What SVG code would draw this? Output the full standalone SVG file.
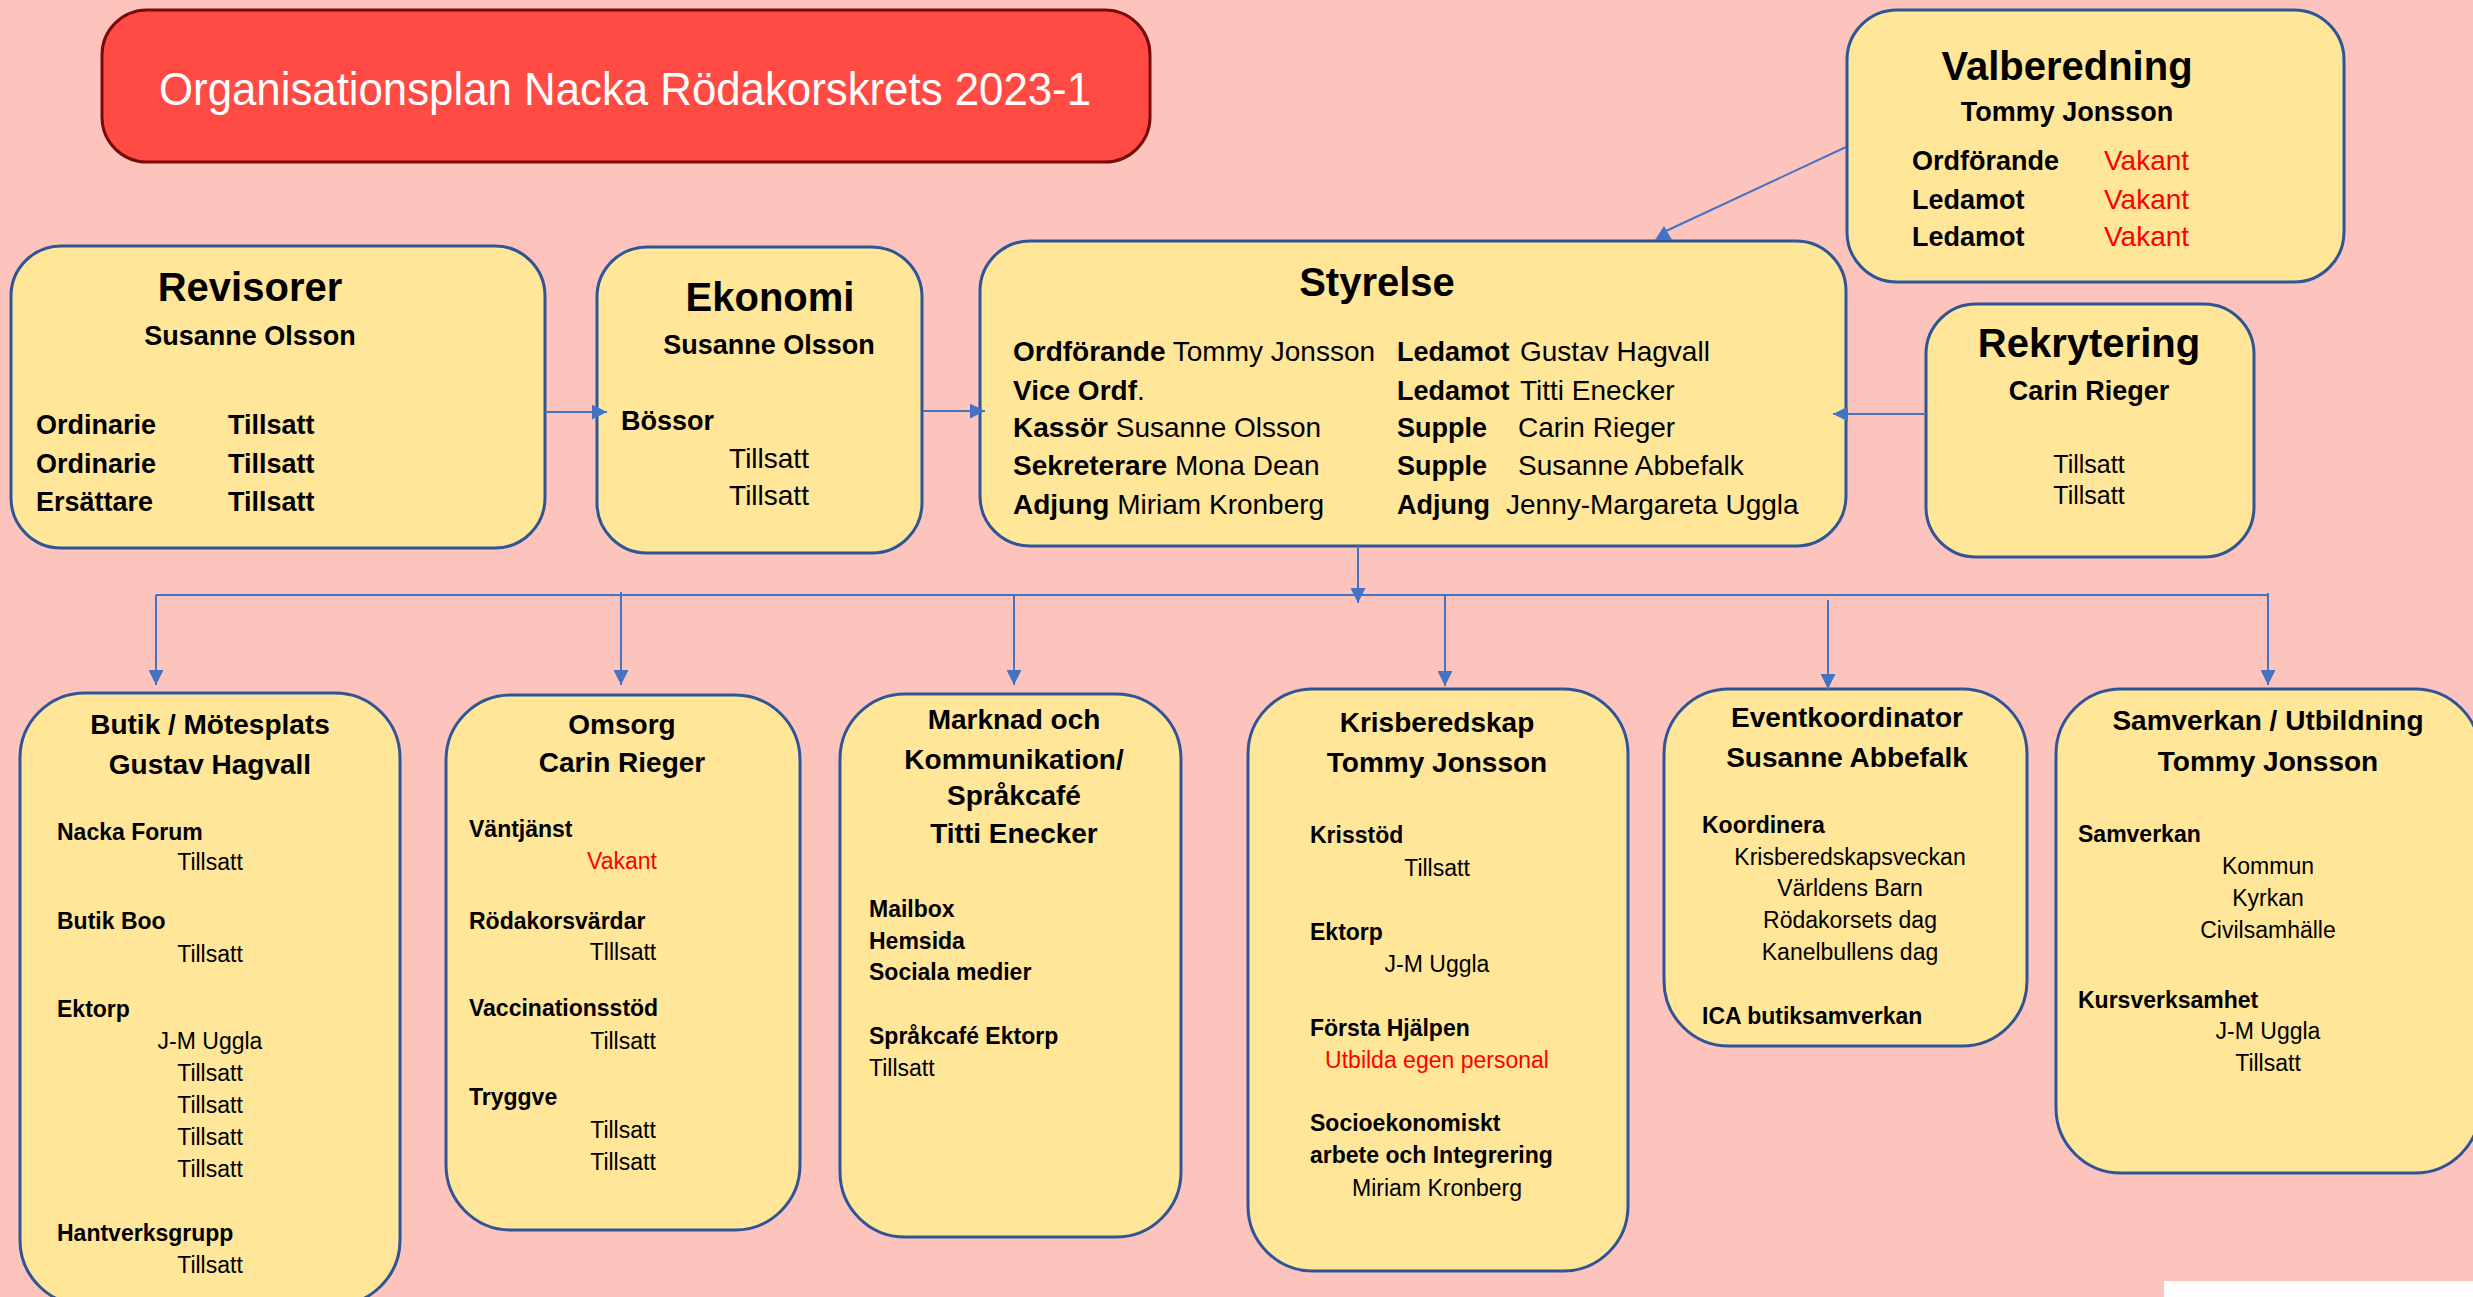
<svg xmlns="http://www.w3.org/2000/svg" width="2473" height="1297" viewBox="0 0 2473 1297">
<style>
text{font-family:"Liberation Sans",Arial,sans-serif;fill:#000}
.box{fill:#FFE699;stroke:#2F5597;stroke-width:3}
.h1{font-size:40px;font-weight:bold;text-anchor:middle}
.h2{font-size:27px;font-weight:bold;text-anchor:middle}
.b27{font-size:27px;font-weight:bold}
.r28{font-size:28px}
.r25{font-size:25px;text-anchor:middle}
.bh{font-size:28px;font-weight:bold;text-anchor:middle}
.bs{font-size:23px;font-weight:bold}
.rs{font-size:23px}
.c{text-anchor:middle}
.red{fill:#FF0000}
.conn{stroke:#4472C4;stroke-width:2;fill:none}
</style>
<defs>
<marker id="ah" viewBox="0 0 10 10" refX="10" refY="5" markerWidth="15" markerHeight="15" markerUnits="userSpaceOnUse" orient="auto">
<path d="M0,0 L10,5 L0,10 z" fill="#4472C4"/>
</marker>
</defs>
<rect x="0" y="0" width="2473" height="1297" fill="#FCC4BD"/>
<rect x="2164" y="1281" width="309" height="16" fill="#FFFFFF"/>

<g id="title">
<rect x="102" y="10" width="1048" height="152" rx="45" fill="#FF4B43" stroke="#7A0A0A" stroke-width="3"/>
<text x="625" y="105" font-size="46" fill="#FFFFFF" style="fill:#FFFFFF" text-anchor="middle" textLength="932" lengthAdjust="spacingAndGlyphs">Organisationsplan Nacka Rödakorskrets 2023-1</text>
</g>

<g id="revisorer">
<rect class="box" x="11" y="246" width="534" height="302" rx="50"/>
<text class="h1" x="250" y="301">Revisorer</text>
<text class="h2" x="250" y="345">Susanne Olsson</text>
<text class="b27" x="36" y="434">Ordinarie</text><text class="b27" x="228" y="434">Tillsatt</text>
<text class="b27" x="36" y="473">Ordinarie</text><text class="b27" x="228" y="473">Tillsatt</text>
<text class="b27" x="36" y="511">Ersättare</text><text class="b27" x="228" y="511">Tillsatt</text>
</g>

<g id="ekonomi">
<rect class="box" x="597" y="247" width="325" height="306" rx="50"/>
<text class="h1" x="770" y="311">Ekonomi</text>
<text class="h2" x="769" y="354">Susanne Olsson</text>
<text class="b27" x="621" y="430">Bössor</text>
<text class="r28 c" x="769" y="468">Tillsatt</text>
<text class="r28 c" x="769" y="505">Tillsatt</text>
</g>

<g id="styrelse">
<rect class="box" x="980" y="241" width="866" height="305" rx="50"/>
<text class="h1" x="1377" y="296">Styrelse</text>
<text class="r28" x="1013" y="361" font-size="27"><tspan font-weight="bold">Ordförande</tspan> Tommy Jonsson</text>
<text class="r28" x="1013" y="400" font-size="27"><tspan font-weight="bold">Vice Ordf</tspan>.</text>
<text class="r28" x="1013" y="437" font-size="27"><tspan font-weight="bold">Kassör</tspan> Susanne Olsson</text>
<text class="r28" x="1013" y="475" font-size="27"><tspan font-weight="bold">Sekreterare</tspan> Mona Dean</text>
<text class="r28" x="1013" y="514" font-size="27"><tspan font-weight="bold">Adjung</tspan> Miriam Kronberg</text>
<text class="b27" x="1397" y="361">Ledamot</text><text class="r28" x="1520" y="361" font-size="27">Gustav Hagvall</text>
<text class="b27" x="1397" y="400">Ledamot</text><text class="r28" x="1520" y="400" font-size="27">Titti Enecker</text>
<text class="b27" x="1397" y="437">Supple</text><text class="r28" x="1518" y="437" font-size="27">Carin Rieger</text>
<text class="b27" x="1397" y="475">Supple</text><text class="r28" x="1518" y="475" font-size="27">Susanne Abbefalk</text>
<text class="b27" x="1397" y="514">Adjung</text><text class="r28" x="1506" y="514" font-size="27">Jenny-Margareta Uggla</text>
</g>

<g id="valberedning">
<rect class="box" x="1847" y="10" width="497" height="272" rx="50"/>
<text class="h1" x="2067" y="80">Valberedning</text>
<text class="h2" x="2067" y="121" font-size="28">Tommy Jonsson</text>
<text class="b27" x="1912" y="170">Ordförande</text><text class="r28 red" x="2104" y="170">Vakant</text>
<text class="b27" x="1912" y="209">Ledamot</text><text class="r28 red" x="2104" y="209">Vakant</text>
<text class="b27" x="1912" y="246">Ledamot</text><text class="r28 red" x="2104" y="246">Vakant</text>
</g>

<g id="rekrytering">
<rect class="box" x="1926" y="304" width="328" height="253" rx="50"/>
<text class="h1" x="2089" y="357">Rekrytering</text>
<text class="h2" x="2089" y="400">Carin Rieger</text>
<text class="r25" x="2089" y="473">Tillsatt</text>
<text class="r25" x="2089" y="504">Tillsatt</text>
</g>

<g id="butik">
<rect class="box" x="20" y="693" width="380" height="612" rx="65"/>
<text class="bh" x="210" y="734">Butik / Mötesplats</text>
<text class="bh" x="210" y="774">Gustav Hagvall</text>
<text class="bs" x="57" y="840">Nacka Forum</text>
<text class="rs c" x="210" y="870">Tillsatt</text>
<text class="bs" x="57" y="929">Butik Boo</text>
<text class="rs c" x="210" y="962">Tillsatt</text>
<text class="bs" x="57" y="1017">Ektorp</text>
<text class="rs c" x="210" y="1049">J-M Uggla</text>
<text class="rs c" x="210" y="1081">Tillsatt</text>
<text class="rs c" x="210" y="1113">Tillsatt</text>
<text class="rs c" x="210" y="1145">Tillsatt</text>
<text class="rs c" x="210" y="1177">Tillsatt</text>
<text class="bs" x="57" y="1241">Hantverksgrupp</text>
<text class="rs c" x="210" y="1273">Tillsatt</text>
</g>

<g id="omsorg">
<rect class="box" x="446" y="695" width="354" height="535" rx="65"/>
<text class="bh" x="622" y="734">Omsorg</text>
<text class="bh" x="622" y="772">Carin Rieger</text>
<text class="bs" x="469" y="837">Väntjänst</text>
<text class="rs c red" x="622" y="869">Vakant</text>
<text class="bs" x="469" y="929">Rödakorsvärdar</text>
<text class="rs c" x="623" y="960">Tlllsatt</text>
<text class="bs" x="469" y="1016">Vaccinationsstöd</text>
<text class="rs c" x="623" y="1049">Tillsatt</text>
<text class="bs" x="469" y="1105">Tryggve</text>
<text class="rs c" x="623" y="1138">Tillsatt</text>
<text class="rs c" x="623" y="1170">Tillsatt</text>
</g>

<g id="marknad">
<rect class="box" x="840" y="694" width="341" height="543" rx="65"/>
<text class="bh" x="1014" y="729">Marknad och</text>
<text class="bh" x="1014" y="769">Kommunikation/</text>
<text class="bh" x="1014" y="805">Språkcafé</text>
<text class="bh" x="1014" y="843">Titti Enecker</text>
<text class="bs" x="869" y="917">Mailbox</text>
<text class="bs" x="869" y="949">Hemsida</text>
<text class="bs" x="869" y="980">Sociala medier</text>
<text class="bs" x="869" y="1044">Språkcafé Ektorp</text>
<text class="rs" x="869" y="1076">Tillsatt</text>
</g>

<g id="krisberedskap">
<rect class="box" x="1248" y="689" width="380" height="582" rx="65"/>
<text class="bh" x="1437" y="732">Krisberedskap</text>
<text class="bh" x="1437" y="772">Tommy Jonsson</text>
<text class="bs" x="1310" y="843">Krisstöd</text>
<text class="rs c" x="1437" y="876">Tillsatt</text>
<text class="bs" x="1310" y="940">Ektorp</text>
<text class="rs c" x="1437" y="972">J-M Uggla</text>
<text class="bs" x="1310" y="1036">Första Hjälpen</text>
<text class="rs c red" x="1437" y="1068">Utbilda egen personal</text>
<text class="bs" x="1310" y="1131">Socioekonomiskt</text>
<text class="bs" x="1310" y="1163">arbete och Integrering</text>
<text class="rs c" x="1437" y="1196">Miriam Kronberg</text>
</g>

<g id="eventkoordinator">
<rect class="box" x="1664" y="689" width="363" height="357" rx="65"/>
<text class="bh" x="1847" y="727">Eventkoordinator</text>
<text class="bh" x="1847" y="767">Susanne Abbefalk</text>
<text class="bs" x="1702" y="833">Koordinera</text>
<text class="rs c" x="1850" y="865">Krisberedskapsveckan</text>
<text class="rs c" x="1850" y="896">Världens Barn</text>
<text class="rs c" x="1850" y="928">Rödakorsets dag</text>
<text class="rs c" x="1850" y="960">Kanelbullens dag</text>
<text class="bs" x="1702" y="1024">ICA butiksamverkan</text>
</g>

<g id="samverkan">
<rect class="box" x="2056" y="689" width="424" height="484" rx="65"/>
<text class="bh" x="2268" y="730">Samverkan / Utbildning</text>
<text class="bh" x="2268" y="771">Tommy Jonsson</text>
<text class="bs" x="2078" y="842">Samverkan</text>
<text class="rs c" x="2268" y="874">Kommun</text>
<text class="rs c" x="2268" y="906">Kyrkan</text>
<text class="rs c" x="2268" y="938">Civilsamhälle</text>
<text class="bs" x="2078" y="1008">Kursverksamhet</text>
<text class="rs c" x="2268" y="1039">J-M Uggla</text>
<text class="rs c" x="2268" y="1071">Tillsatt</text>
</g>

<g id="connectors">
<line class="conn" x1="545" y1="412" x2="607" y2="412" marker-end="url(#ah)"/>
<line class="conn" x1="923" y1="411" x2="985" y2="411" marker-end="url(#ah)"/>
<line class="conn" x1="1926" y1="414" x2="1833" y2="414" marker-end="url(#ah)"/>
<line class="conn" x1="1846" y1="147" x2="1666" y2="231"/>
<polygon points="1664,226 1672,240 1655,240" fill="#4472C4"/>
<line class="conn" x1="1358" y1="546" x2="1358" y2="603" marker-end="url(#ah)"/>
<line class="conn" x1="156" y1="595" x2="2268" y2="595"/>
<line class="conn" x1="156" y1="595" x2="156" y2="685" marker-end="url(#ah)"/>
<line class="conn" x1="621" y1="592" x2="621" y2="685" marker-end="url(#ah)"/>
<line class="conn" x1="1014" y1="595" x2="1014" y2="685" marker-end="url(#ah)"/>
<line class="conn" x1="1445" y1="595" x2="1445" y2="686" marker-end="url(#ah)"/>
<line class="conn" x1="1828" y1="600" x2="1828" y2="689" marker-end="url(#ah)"/>
<line class="conn" x1="2268" y1="593" x2="2268" y2="685" marker-end="url(#ah)"/>
</g>
</svg>
